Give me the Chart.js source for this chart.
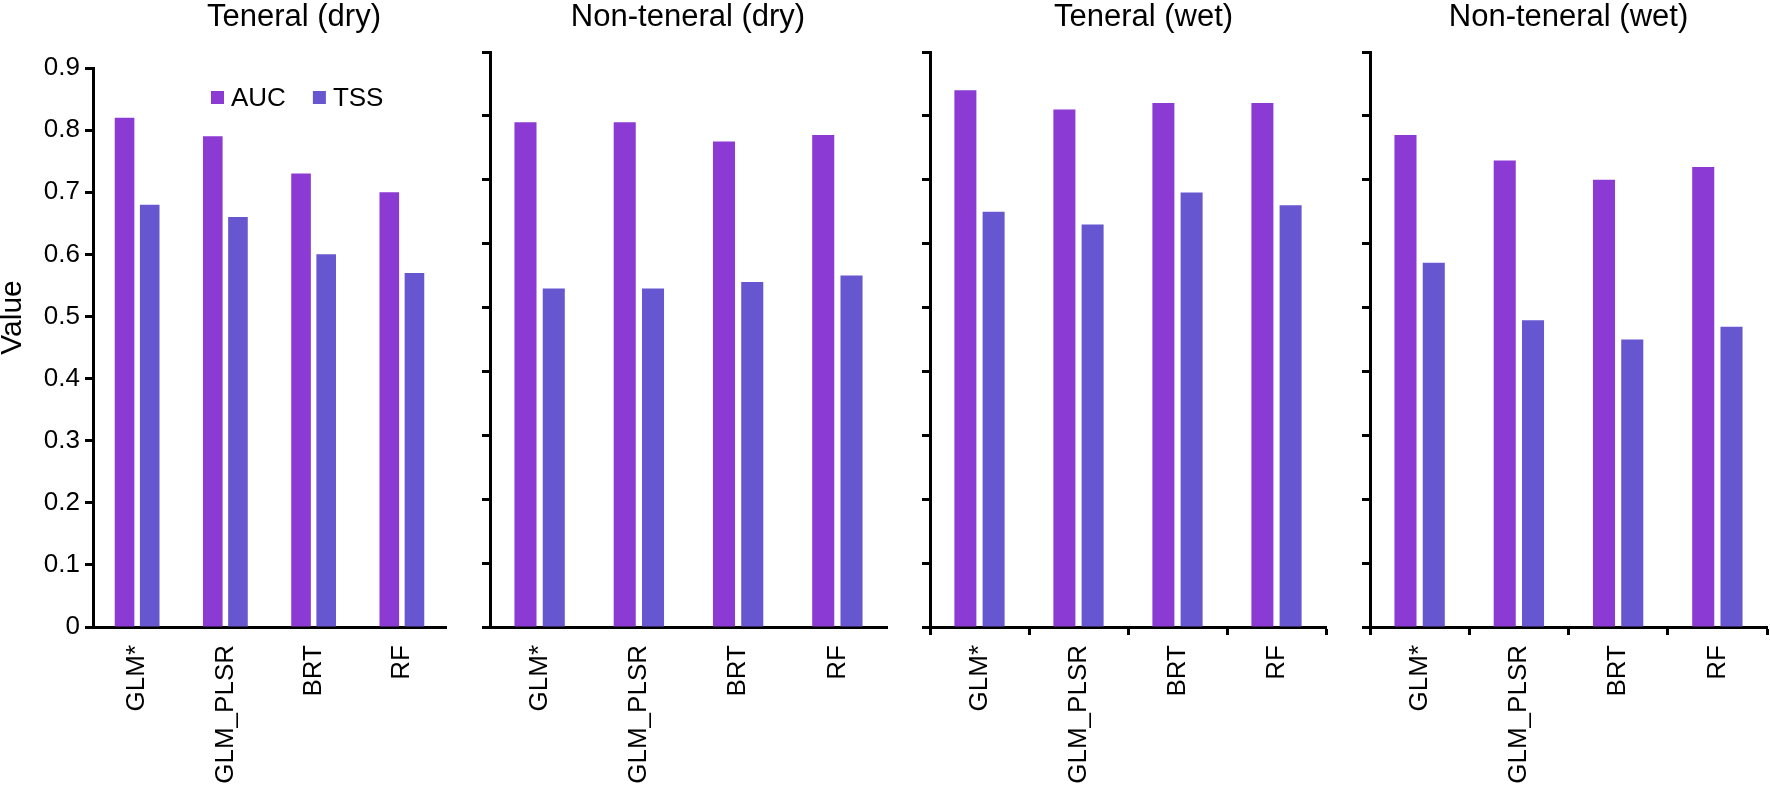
<!DOCTYPE html>
<html>
<head>
<meta charset="utf-8">
<script src="https://cdn.jsdelivr.net/npm/chart.js@4.4.1/dist/chart.umd.min.js"></script>
<style>
  html, body { margin: 0; padding: 0; background: #fff; overflow: hidden; }
  body { width: 1770px; height: 790px; position: relative; }
  canvas { position: absolute; top: 0; }
</style>
</head>
<body>
<canvas id="c0"></canvas>
<canvas id="c1"></canvas>
<canvas id="c2"></canvas>
<canvas id="c3"></canvas>
<script>
// data
const categories = ['GLM*', 'GLM_PLSR', 'BRT', 'RF'];
const panelTitles = ['Teneral (dry)', 'Non-teneral (dry)', 'Teneral (wet)', 'Non-teneral (wet)'];
const seriesNames = ['AUC', 'TSS'];

const aucTeneralDry = [0.82, 0.79, 0.73, 0.70];
const tssTeneralDry = [0.68, 0.66, 0.60, 0.57];
const aucNonTeneralDry = [0.79, 0.79, 0.76, 0.77];
const tssNonTeneralDry = [0.53, 0.53, 0.54, 0.55];
const aucTeneralWet = [0.84, 0.81, 0.82, 0.82];
const tssTeneralWet = [0.65, 0.63, 0.68, 0.66];
const aucNonTeneralWet = [0.77, 0.73, 0.70, 0.72];
const tssNonTeneralWet = [0.57, 0.48, 0.45, 0.47];

const yTickValues = [0, 0.1, 0.2, 0.3, 0.4, 0.5, 0.6, 0.7, 0.8, 0.9];
const yTickLabels = ['0', '0.1', '0.2', '0.3', '0.4', '0.5', '0.6', '0.7', '0.8', '0.9'];
const yAxisTitle = 'Value';

const panelSeries = [
  [aucTeneralDry, tssTeneralDry],
  [aucNonTeneralDry, tssNonTeneralDry],
  [aucTeneralWet, tssTeneralWet],
  [aucNonTeneralWet, tssNonTeneralWet]
];

// look & layout
const FONT = "'Liberation Sans', Arial, Helvetica, sans-serif";
const colors = ['#8b3ad3', '#6656cf'];

const panels = [
  { left: 0,    width: 588, yWidth: 93, spacer: 142, titleGap: 33.9, yLabels: true,  xTicks: false, legend: true },
  { left: 470,  width: 436, yWidth: 20, spacer: 19,  titleGap: 17.9, yLabels: false, xTicks: false, legend: false },
  { left: 910,  width: 467, yWidth: 20, spacer: 51,  titleGap: 17.9, yLabels: false, xTicks: true,  legend: false },
  { left: 1350, width: 437, yWidth: 20, spacer: 20,  titleGap: 17.9, yLabels: false, xTicks: true,  legend: false }
];

Chart.defaults.font.family = FONT;
Chart.defaults.color = '#000';

// legend drawn inside the plot area, like the original
const innerLegend = {
  id: 'innerLegend',
  afterDatasetsDraw(chart, args, opts) {
    if (!opts.display) return;
    const { ctx, chartArea } = chart;
    const box = 13;
    ctx.save();
    ctx.font = `26px ${FONT}`;
    ctx.textBaseline = 'middle';
    let x = chartArea.left + opts.dx;
    const y = chartArea.top + opts.dy;
    chart.data.datasets.forEach(ds => {
      ctx.fillStyle = ds.backgroundColor;
      ctx.fillRect(x, y - box / 2, box, box);
      ctx.fillStyle = '#000';
      ctx.fillText(ds.label, x + box + 7, y + 1);
      x += box + 7 + ctx.measureText(ds.label).width + 27;
    });
    ctx.restore();
  }
};

// rotated "Value" label, sitting a bit above the axis middle
const sideLabel = {
  id: 'sideLabel',
  afterDraw(chart, args, opts) {
    if (!opts.text) return;
    const { ctx, chartArea } = chart;
    ctx.save();
    ctx.font = `30px ${FONT}`;
    ctx.fillStyle = '#000';
    ctx.textAlign = 'center';
    ctx.textBaseline = 'middle';
    ctx.translate(opts.x, (chartArea.top + chartArea.bottom) / 2 - opts.lift);
    ctx.rotate(-Math.PI / 2);
    ctx.fillText(opts.text, 0, 0);
    ctx.restore();
  }
};

panels.forEach((p, i) => {
  const canvas = document.getElementById('c' + i);
  canvas.width = p.width;
  canvas.height = 790;
  canvas.style.left = p.left + 'px';
  canvas.style.width = p.width + 'px';
  canvas.style.height = '790px';

  new Chart(canvas, {
    type: 'bar',
    data: {
      labels: categories,
      datasets: panelSeries[i].map((values, k) => ({
        label: seriesNames[k],
        data: values,
        backgroundColor: colors[k],
        borderWidth: 0,
        categoryPercentage: 0.57,
        barPercentage: 0.78
      }))
    },
    options: {
      responsive: false,
      animation: false,
      devicePixelRatio: 1,
      layout: { padding: 0 },
      plugins: {
        legend: { display: false },
        tooltip: { enabled: false },
        title: {
          display: true,
          text: panelTitles[i],
          color: '#000',
          font: { size: 31, weight: 'normal', lineHeight: 1.1 },
          padding: { top: 0, bottom: p.titleGap }
        },
        innerLegend: { display: p.legend, dx: 118, dy: 29.5 },
        sideLabel: { text: i === 0 ? yAxisTitle : '', x: 13, lift: 30 }
      },
      scales: {
        x: {
          grid: {
            display: p.xTicks,
            drawOnChartArea: false,
            drawTicks: p.xTicks,
            tickLength: 8,
            tickWidth: 3,
            tickColor: '#000',
            offset: true
          },
          border: { display: true, color: '#000', width: 3 },
          ticks: {
            font: { size: 26 },
            color: '#000',
            minRotation: 90,
            maxRotation: 90,
            autoSkip: false,
            padding: p.xTicks ? 10 : 18
          },
          afterFit: s => { s.height = 163; }
        },
        y: {
          min: 0,
          max: 0.9,
          afterBuildTicks: s => { s.ticks = yTickValues.map(v => ({ value: v })); },
          grid: {
            drawOnChartArea: false,
            drawTicks: true,
            tickLength: 8,
            tickWidth: 3,
            tickColor: '#000'
          },
          border: { display: true, color: '#000', width: 3 },
          ticks: {
            display: p.yLabels,
            font: { size: 26 },
            color: '#000',
            padding: 5,
            callback: (v, idx) => yTickLabels[idx]
          },
          afterFit: s => { s.width = p.yWidth; }
        },
        spacer: {
          type: 'linear',
          position: 'right',
          display: true,
          grid: { display: false },
          border: { display: false },
          ticks: { display: false },
          afterFit: s => { s.width = p.spacer; }
        }
      }
    },
    plugins: [innerLegend, sideLabel]
  });
});
</script>
</body>
</html>
